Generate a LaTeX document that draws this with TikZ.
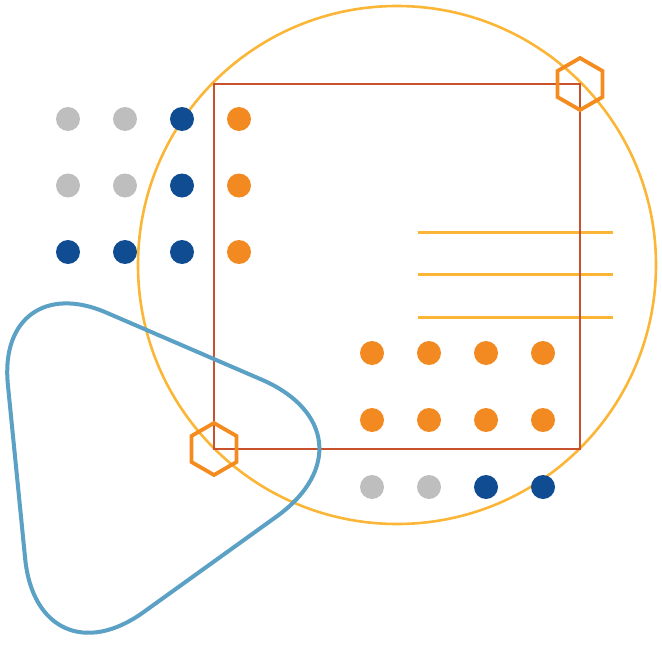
\documentclass[tikz,border=0pt]{standalone}
\usepackage{xcolor}
\usetikzlibrary{calc}

\definecolor{ringYellow}{HTML}{FBB637}
\definecolor{frameRed}{HTML}{C8522D}
\definecolor{loopBlue}{HTML}{5BA0C5}
\definecolor{hexOrange}{HTML}{F48B1F}
\definecolor{dotGray}{HTML}{BEBEBE}
\definecolor{dotNavy}{HTML}{0F4C92}
\definecolor{dotOrange}{HTML}{F28A21}

\begin{document}
\begin{tikzpicture}[
    x=1pt, y=-1pt,
    dot/.style={circle, fill, inner sep=0pt, minimum size=24pt},
    ring/.style={draw=ringYellow, line width=2.6pt},
    rule/.style={draw=ringYellow, line width=3pt},
    frame/.style={draw=frameRed, line width=2.6pt},
    loopline/.style={draw=loopBlue, line width=4pt},
    hex/.style={draw=hexOrange, line width=3.8pt, line join=miter}
]

% Frame
\useasboundingbox (0,0) rectangle (662,645);

% Circle and rules
\draw[ring] (397,265) circle (259pt);
\foreach \y in {232,274,317}
  \draw[rule] (418,\y) -- (613,\y);

% Square
\coordinate (sqNW) at (214,84);
\coordinate (sqNE) at (580,84);
\coordinate (sqSW) at (214,449);
\coordinate (sqSE) at (580,449);
\draw[frame] (sqNW) -- (sqNE) -- (sqSE) -- (sqSW) -- cycle;

% Dots, top left
\foreach \a/\b/\c/\d [count=\r] in {dotGray/dotGray/dotNavy/dotOrange,
                                     dotGray/dotGray/dotNavy/dotOrange,
                                     dotNavy/dotNavy/dotNavy/dotOrange}
  \foreach \col [count=\k] in {\a,\b,\c,\d}
    \node[dot, fill=\col] (tl-\r-\k) at ({68+57*(\k-1)},{119+66.5*(\r-1)}) {};

% Dots, bottom right
\foreach \a/\b/\c/\d [count=\r] in {dotOrange/dotOrange/dotOrange/dotOrange,
                                     dotOrange/dotOrange/dotOrange/dotOrange,
                                     dotGray/dotGray/dotNavy/dotNavy}
  \foreach \col [count=\k] in {\a,\b,\c,\d}
    \node[dot, fill=\col] (br-\r-\k) at ({372+57*(\k-1)},{353+67*(\r-1)}) {};

% Rounded triangle
\coordinate (triA) at (-4,265);
\coordinate (triC) at (390,435);
\coordinate (triB) at (38,688);
\draw[loopline] ($(triA)!0.5!(triB)$) [rounded corners=130pt] -- (triB)
  [rounded corners=140pt] -- (triC) [rounded corners=120pt] -- (triA)
  -- ($(triA)!0.5!(triB)$);

% Hexagons
\foreach \c in {sqNE, sqSW}
  \draw[hex] (\c) +(90:26pt) -- +(150:26pt) -- +(210:26pt) -- +(270:26pt)
    -- +(330:26pt) -- +(30:26pt) -- cycle;

\end{tikzpicture}
\end{document}
